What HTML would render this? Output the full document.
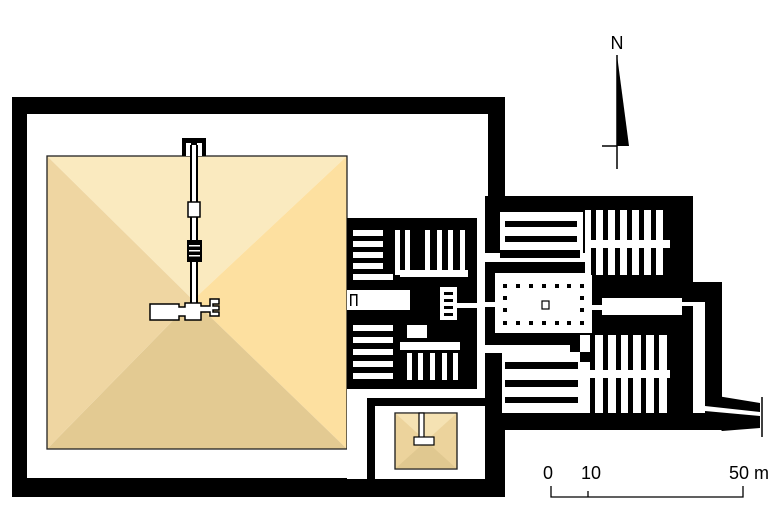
<!DOCTYPE html>
<html><head><meta charset="utf-8"><style>
html,body{margin:0;padding:0;background:#fff;width:777px;height:512px;overflow:hidden}
svg{display:block}
text{font-family:"Liberation Sans",sans-serif;fill:#000}
</style></head><body>
<svg width="777" height="512" viewBox="0 0 777 512" xmlns="http://www.w3.org/2000/svg">
<!-- enclosure -->
<rect x="12" y="97" width="493" height="400" fill="#000"/>
<rect x="27" y="114" width="461" height="364" fill="#fff"/>
<!-- pyramid -->
<polygon points="47,156 347,156 193,300" fill="#faeabf"/>
<polygon points="347,156 347,449 193,300" fill="#fde0a0"/>
<polygon points="47,449 347,449 193,300" fill="#e3ca92"/>
<polygon points="47,156 47,449 193,300" fill="#efd6a2"/>
<rect x="47" y="156" width="300" height="293" fill="none" stroke="#222" stroke-width="1.3"/>
<!-- pyramid chambers -->
<rect x="182" y="138" width="24" height="18" fill="#000"/>
<rect x="186" y="143" width="5" height="13" fill="#fff"/>
<rect x="197" y="143" width="5" height="13" fill="#fff"/>
<rect x="190" y="145" width="8" height="160" fill="#000"/>
<rect x="192" y="145" width="4" height="160" fill="#fff"/>
<rect x="188" y="202" width="12" height="15" fill="#fff" stroke="#000" stroke-width="1.5"/>
<rect x="187" y="240" width="15" height="22" fill="#000"/>
<rect x="189" y="245" width="11" height="1.5" fill="#fff"/>
<rect x="189" y="250" width="11" height="1.5" fill="#fff"/>
<rect x="189" y="255" width="11" height="1.5" fill="#fff"/>
<path d="M150,304 H179 V307 H185 V303 H201 V306 H210 V299 H219 V304 H213 V306 H219 V310 H213 V312 H219 V316 H210 V312 H201 V320 H185 V316 H179 V320 H150 Z" fill="#fff" stroke="#000" stroke-width="1.5"/>
<!-- small pyramid enclosure -->
<rect x="347" y="387" width="140" height="92" fill="#fff"/>
<rect x="367" y="398" width="120" height="8" fill="#000"/>
<rect x="367" y="398" width="8" height="81" fill="#000"/>
<rect x="485" y="387" width="20" height="110" fill="#000"/>
<rect x="395" y="413" width="62" height="56" fill="#ecd39c" stroke="#222" stroke-width="1.2"/>
<polygon points="395,413 457,413 426,441" fill="#f5e2b3"/>
<polygon points="395,469 457,469 426,441" fill="#e0c890"/>
<rect x="395" y="413" width="62" height="56" fill="none" stroke="#222" stroke-width="1.2"/>
<rect x="419" y="413" width="5" height="25" fill="#fff" stroke="#000" stroke-width="1.2"/>
<rect x="414" y="437" width="20" height="8" fill="#fff" stroke="#000" stroke-width="1.2"/>
<!-- temple left block -->
<rect x="347" y="218" width="130" height="171" fill="#000"/>
<rect x="477" y="218" width="8" height="135" fill="#fff"/>
<g fill="#fff">
<rect x="353" y="230" width="30" height="6"/><rect x="353" y="241" width="30" height="6"/><rect x="353" y="252" width="30" height="6"/><rect x="353" y="263" width="30" height="6"/><rect x="353" y="274" width="40" height="6"/>
<rect x="395" y="230" width="5" height="45"/><rect x="405" y="230" width="5" height="45"/><rect x="425" y="230" width="5" height="45"/><rect x="437" y="230" width="5" height="45"/><rect x="448" y="230" width="5" height="45"/><rect x="460" y="230" width="5" height="45"/>
<rect x="400" y="270" width="68" height="7"/>
<rect x="347" y="290" width="63" height="20"/>
<rect x="440" y="287" width="17" height="33"/>
<rect x="457" y="303" width="28" height="5"/>
<rect x="353" y="325" width="40" height="6"/><rect x="353" y="337" width="40" height="6"/><rect x="353" y="349" width="40" height="6"/><rect x="353" y="361" width="40" height="6"/><rect x="353" y="373" width="40" height="6"/>
<rect x="407" y="325" width="20" height="13"/>
<rect x="400" y="342" width="60" height="8"/>
<rect x="407" y="353" width="5" height="27"/><rect x="418" y="353" width="5" height="27"/><rect x="430" y="353" width="5" height="27"/><rect x="442" y="353" width="5" height="27"/><rect x="453" y="353" width="5" height="27"/>
</g>
<g fill="#000">
<rect x="444" y="292" width="9" height="3"/><rect x="444" y="299" width="9" height="3"/><rect x="444" y="306" width="9" height="3"/><rect x="444" y="313" width="9" height="3"/>
<rect x="350" y="294" width="1.5" height="12"/><rect x="350" y="294" width="7" height="1.5"/><rect x="356" y="294" width="1.5" height="12"/>
</g>
<!-- temple right block -->
<rect x="485" y="196" width="208" height="234" fill="#000"/>
<rect x="693" y="282" width="29" height="148" fill="#000"/>
<g fill="#fff">
<rect x="500" y="212" width="83" height="46"/>
<rect x="585" y="210" width="85" height="65"/>
<rect x="485" y="253" width="108" height="9"/>
<rect x="495" y="273" width="97" height="60"/>
<rect x="485" y="302" width="10" height="5"/>
<rect x="592" y="305" width="10" height="5"/>
<rect x="602" y="298" width="80" height="17"/>
<rect x="682" y="302" width="11" height="4"/>
<rect x="693" y="302" width="12" height="111"/>
<rect x="485" y="345" width="85" height="8"/>
<rect x="502" y="352" width="78" height="61"/>
<rect x="580" y="335" width="90" height="78"/>
</g>
<g fill="#000">
<rect x="505" y="221" width="72" height="6"/><rect x="505" y="236" width="72" height="6"/><rect x="500" y="250" width="80" height="8"/>
<rect x="591" y="210" width="5" height="30"/><rect x="603" y="210" width="5" height="30"/><rect x="615" y="210" width="5" height="30"/><rect x="627" y="210" width="5" height="30"/><rect x="639" y="210" width="5" height="30"/><rect x="651" y="210" width="5" height="30"/><rect x="663" y="210" width="7" height="30"/>
<rect x="591" y="248" width="5" height="27"/><rect x="603" y="248" width="5" height="27"/><rect x="615" y="248" width="5" height="27"/><rect x="627" y="248" width="5" height="27"/><rect x="639" y="248" width="5" height="27"/><rect x="651" y="248" width="5" height="27"/><rect x="663" y="248" width="7" height="27"/>
<rect x="503" y="284" width="4" height="4"/><rect x="516" y="284" width="4" height="4"/><rect x="529" y="284" width="4" height="4"/><rect x="542" y="284" width="4" height="4"/><rect x="555" y="284" width="4" height="4"/><rect x="567" y="284" width="4" height="4"/><rect x="580" y="284" width="4" height="4"/>
<rect x="503" y="321" width="4" height="4"/><rect x="516" y="321" width="4" height="4"/><rect x="529" y="321" width="4" height="4"/><rect x="542" y="321" width="4" height="4"/><rect x="555" y="321" width="4" height="4"/><rect x="567" y="321" width="4" height="4"/><rect x="580" y="321" width="4" height="4"/>
<rect x="503" y="296" width="4" height="4"/><rect x="503" y="308" width="4" height="4"/><rect x="580" y="296" width="4" height="4"/><rect x="580" y="308" width="4" height="4"/>
<rect x="505" y="362" width="73" height="7"/><rect x="505" y="380" width="73" height="7"/><rect x="505" y="397" width="73" height="6"/>
<rect x="580" y="352" width="10" height="10"/>
<rect x="590" y="335" width="5" height="35"/><rect x="603" y="335" width="5" height="35"/><rect x="616" y="335" width="5" height="35"/><rect x="628" y="335" width="5" height="35"/><rect x="641" y="335" width="5" height="35"/><rect x="654" y="335" width="5" height="35"/><rect x="667" y="335" width="3" height="35"/>
<rect x="590" y="378" width="5" height="35"/><rect x="603" y="378" width="5" height="35"/><rect x="616" y="378" width="5" height="35"/><rect x="628" y="378" width="5" height="35"/><rect x="641" y="378" width="5" height="35"/><rect x="654" y="378" width="5" height="35"/><rect x="667" y="378" width="3" height="35"/>
</g>
<rect x="542" y="301" width="7" height="8" fill="#fff" stroke="#000" stroke-width="1.2"/>
<!-- causeway -->
<polygon points="705,394 760,403 760,428 722,431 705,413" fill="#000"/>
<polygon points="705,406 760,412 760,416 705,411" fill="#fff"/>
<line x1="762" y1="397" x2="762" y2="437" stroke="#000" stroke-width="1.5"/>
<!-- north arrow -->
<text x="617" y="49" font-size="18" text-anchor="middle">N</text>
<polygon points="617,55 629,146 617,146" fill="#000"/>
<line x1="617" y1="55" x2="617" y2="169" stroke="#000" stroke-width="1.5"/>
<line x1="602" y1="146" x2="617" y2="146" stroke="#000" stroke-width="1.5"/>
<!-- scale -->
<text x="548" y="479" font-size="18" text-anchor="middle">0</text>
<text x="591" y="479" font-size="18" text-anchor="middle">10</text>
<text x="749" y="479" font-size="18" text-anchor="middle">50 m</text>
<path d="M551,486 V497 H743 V486 M588,491 V497" fill="none" stroke="#000" stroke-width="1.3"/>
</svg>
</body></html>
